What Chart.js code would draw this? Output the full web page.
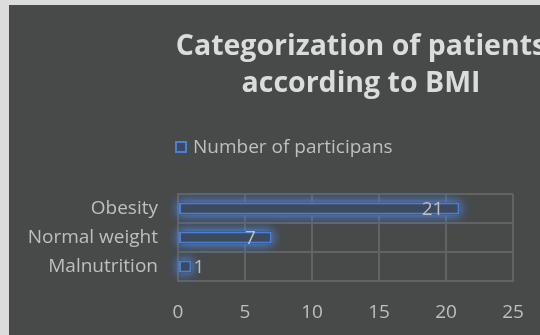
<!DOCTYPE html>
<html>
<head>
<meta charset="utf-8">
<script src="https://cdn.jsdelivr.net/npm/chart.js@4/dist/chart.umd.min.js"></script>
<style>
  html, body { margin: 0; padding: 0; }
  body { width: 540px; height: 335px; overflow: hidden; background: #dcdcdc; position: relative; }
  #wrap { position: absolute; left: 9px; top: 5px; width: 531px; height: 330px; background: #484a4a; }
  #title { position: absolute; left: 61px; top: 26px; width: 600px; text-align: center;
           font: bold 28.5px "Open Sans", sans-serif; line-height: 37px; color: #dcdcdc; white-space: nowrap; }
  #legend { position: absolute; left: 175px; top: 133px; font: 19px "Open Sans", sans-serif; color: #bfbfbf; white-space: nowrap; }
  #legend .box { display: inline-block; width: 8px; height: 8px; border: 2px solid #4a7fd4; background: #3c4a5f; vertical-align: middle; margin-right: 6px; position: relative; top: -1px; }
</style>
</head>
<body>
<div id="wrap"><canvas id="BarChart" width="531" height="330"></canvas></div>
<div id="title"></div>
<div id="legend"></div>
<script>
// datos del grafico
const categories = ['Obesity', 'Normal weight', 'Malnutrition'];
const participants = [21, 7, 1];
const seriesName = 'Number of participans';
const titleLines = ['Categorization of patients', 'according to BMI'];
const xTicks = [0, 5, 10, 15, 20, 25];

const textColor = '#bfbfbf';
const gridColor = '#626464';
const blue = '#4a7fd4';

// titulo y leyenda en html (el grafico original esta recortado a la derecha)
document.getElementById('title').innerHTML = titleLines.join('<br>');
document.getElementById('legend').innerHTML = '<span class="box"></span>' + seriesName;

// brillo azul alrededor de las barras (la barra recorta su propia sombra, asi que va debajo)
const glowPlugin = {
    id: 'glow',
    beforeDatasetsDraw(chart) {
        const ctx = chart.ctx;
        ctx.save();
        ctx.shadowColor = 'rgba(74, 127, 212, 0.9)';
        ctx.shadowBlur = 11;
        ctx.fillStyle = '#3c4a5f';
        chart.getDatasetMeta(0).data.forEach(bar => {
            const top = bar.y - bar.height / 2;
            ctx.fillRect(bar.base, top, bar.x - bar.base, bar.height);
            ctx.fillRect(bar.base, top, bar.x - bar.base, bar.height);
        });
        ctx.restore();
    }
};

// etiquetas de valor (dentro al final, o fuera si no caben)
const valueLabels = {
    id: 'valueLabels',
    afterDatasetsDraw(chart) {
        const ctx = chart.ctx;
        const meta = chart.getDatasetMeta(0);
        ctx.save();
        ctx.font = '19px "Open Sans", sans-serif';
        ctx.fillStyle = textColor;
        ctx.textBaseline = 'middle';
        meta.data.forEach((bar, i) => {
            const txt = String(participants[i]);
            const tw = ctx.measureText(txt).width;
            const len = bar.x - bar.base;
            if (len > tw + 22) {
                ctx.textAlign = 'right';
                ctx.fillText(txt, bar.x - 16, bar.y + 1);
            } else {
                ctx.textAlign = 'left';
                ctx.fillText(txt, bar.x + 2, bar.y + 1);
            }
        });
        ctx.restore();
    }
};

const canvasElement = document.getElementById('BarChart');

new Chart(canvasElement, {
    type: 'bar',
    data: {
        labels: categories,
        datasets: [{
            label: seriesName,
            data: participants,
            backgroundColor: '#3c4a5f',
            borderColor: blue,
            borderWidth: 2,
            borderSkipped: false,
            categoryPercentage: 1,
            barPercentage: 0.42
        }]
    },
    options: {
        indexAxis: 'y',
        responsive: false,
        animation: false,
        layout: { padding: { left: 0, right: 27, top: 189, bottom: 0 } },
        scales: {
            x: {
                min: 0,
                max: 25,
                afterBuildTicks: scale => { scale.ticks = xTicks.map(v => ({ value: v })); },
                afterFit: scale => {
                    scale.height = 54;
                    scale.paddingLeft = 0;
                    scale.paddingRight = 0;
                },
                grid: { color: gridColor, lineWidth: 2, drawTicks: false },
                border: { color: gridColor, width: 2 },
                ticks: {
                    color: textColor,
                    padding: 20,
                    font: { family: 'Open Sans', size: 19 }
                }
            },
            y: {
                afterFit: scale => { scale.width = 169; },
                grid: { color: gridColor, lineWidth: 2, drawTicks: false },
                border: { color: gridColor, width: 2 },
                ticks: {
                    color: textColor,
                    padding: 20,
                    font: { family: 'Open Sans', size: 19 }
                }
            }
        },
        plugins: {
            legend: { display: false },
            tooltip: { enabled: false },
            title: { display: false }
        }
    },
    plugins: [glowPlugin, valueLabels]
});
</script>
</body>
</html>
